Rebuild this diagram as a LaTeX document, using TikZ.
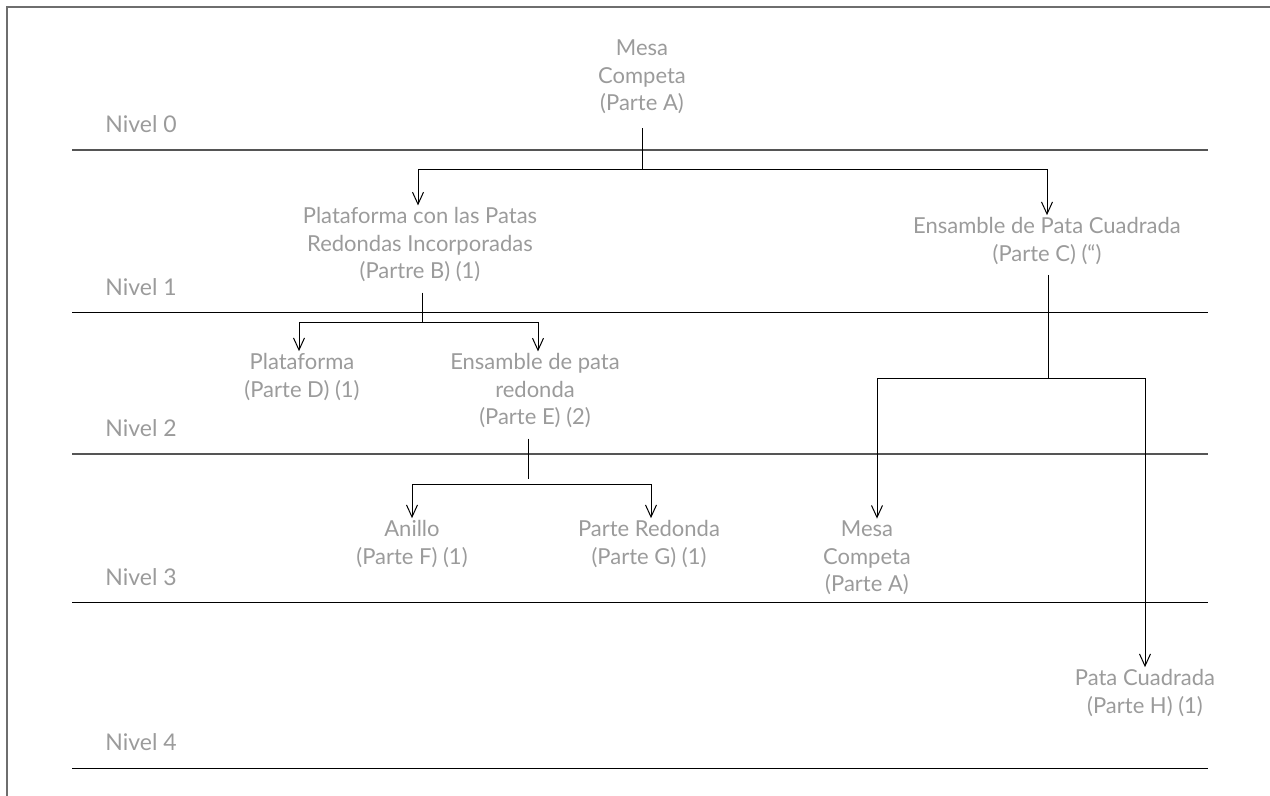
\documentclass[tikz,border=0pt]{standalone}
\usepackage{fontspec}
\setmainfont{Lato}
\usetikzlibrary{arrows.meta, calc}
\definecolor{ctexto}{RGB}{155,155,155}
\definecolor{cnivel}{RGB}{85,85,85}
\definecolor{cmarco}{RGB}{110,110,110}

\begin{document}
\begin{tikzpicture}[x=0.5pt, y=-0.5pt, font=\fontsize{11}{13.75}\selectfont,
    >={Straight Barb[length=6pt, width=5.5pt]},
    parte/.style={text=ctexto, align=center, inner sep=1pt},
    nivel/.style={text=ctexto, anchor=west, inner sep=0pt, font=\fontsize{11.5}{13.75}\selectfont},
    linea/.style={draw=black, line width=0.5pt},
    lineagris/.style={draw=cnivel, line width=0.75pt},
    enlace/.style={line width=0.5pt}]

  \useasboundingbox (0,0) rectangle (1270,796);

  % marco
  \draw[cmarco, line width=0.7pt] (7,796) -- (7,7) -- (1270,7);

  % niveles
  \foreach \y/\n/\s in {150/0/lineagris, 313/1/linea, 454/2/lineagris, 603/3/linea, 768/4/linea} {
    \draw[\s] (72,\y) -- (1208,\y);
    \node[nivel] (nivel\n) at (105,\y-26) {Nivel \n};
  }

  % partes
  \node[parte] (mesa) at (642,77) {Mesa\\Competa\\(Parte A)};
  \node[parte] (plataformaB) at (420,245) {Plataforma con las Patas\\Redondas Incorporadas\\(Partre B) (1)};
  \node[parte] (ensambleC) at (1047,241) {Ensamble de Pata Cuadrada\\(Parte C) (“)};
  \node[parte] (plataformaD) at (302,377) {Plataforma\\(Parte D) (1)};
  \node[parte] (ensambleE) at (535,391) {Ensamble de pata\\redonda\\(Parte E) (2)};
  \node[parte] (anillo) at (412,544) {Anillo\\(Parte F) (1)};
  \node[parte] (redonda) at (649,544) {Parte Redonda\\(Parte G) (1)};
  \node[parte] (mesaB) at (867,558) {Mesa\\Competa\\(Parte A)};
  \node[parte] (pata) at (1145,693) {Pata Cuadrada\\(Parte H) (1)};

  % uniones
  \coordinate (jA) at (642,170);
  \coordinate (jB) at (422,323);
  \coordinate (jC) at (1048,379);
  \coordinate (jE) at (528,485);

  % ramas
  \draw[enlace, shorten <=6pt] (mesa.south) -- (mesa.south |- jA);
  \draw[enlace, ->] (jA) -| ([xshift=-1pt]plataformaB.north);
  \draw[enlace, ->] (jA) -| (ensambleC.north);
  \draw[enlace, shorten <=4pt] (plataformaB.south -| jB) -- (jB);
  \draw[enlace, ->] (jB) -| ([xshift=-1.5pt]plataformaD.north);
  \draw[enlace, ->] (jB) -| ([xshift=1.5pt]ensambleE.north);
  \draw[enlace, shorten <=4pt] (ensambleC.south -| jC) -- (jC);
  \draw[enlace, ->] (jC) -| ([xshift=5pt]mesaB.north);
  \draw[enlace, ->] (jC) -| (pata.north);
  \draw[enlace, shorten <=4pt] (ensambleE.south -| jE) -- ([yshift=3pt]jE);
  \draw[enlace, ->] (jE) -| (anillo.north);
  \draw[enlace, ->] (jE) -| ([xshift=1pt]redonda.north);
\end{tikzpicture}
\end{document}
